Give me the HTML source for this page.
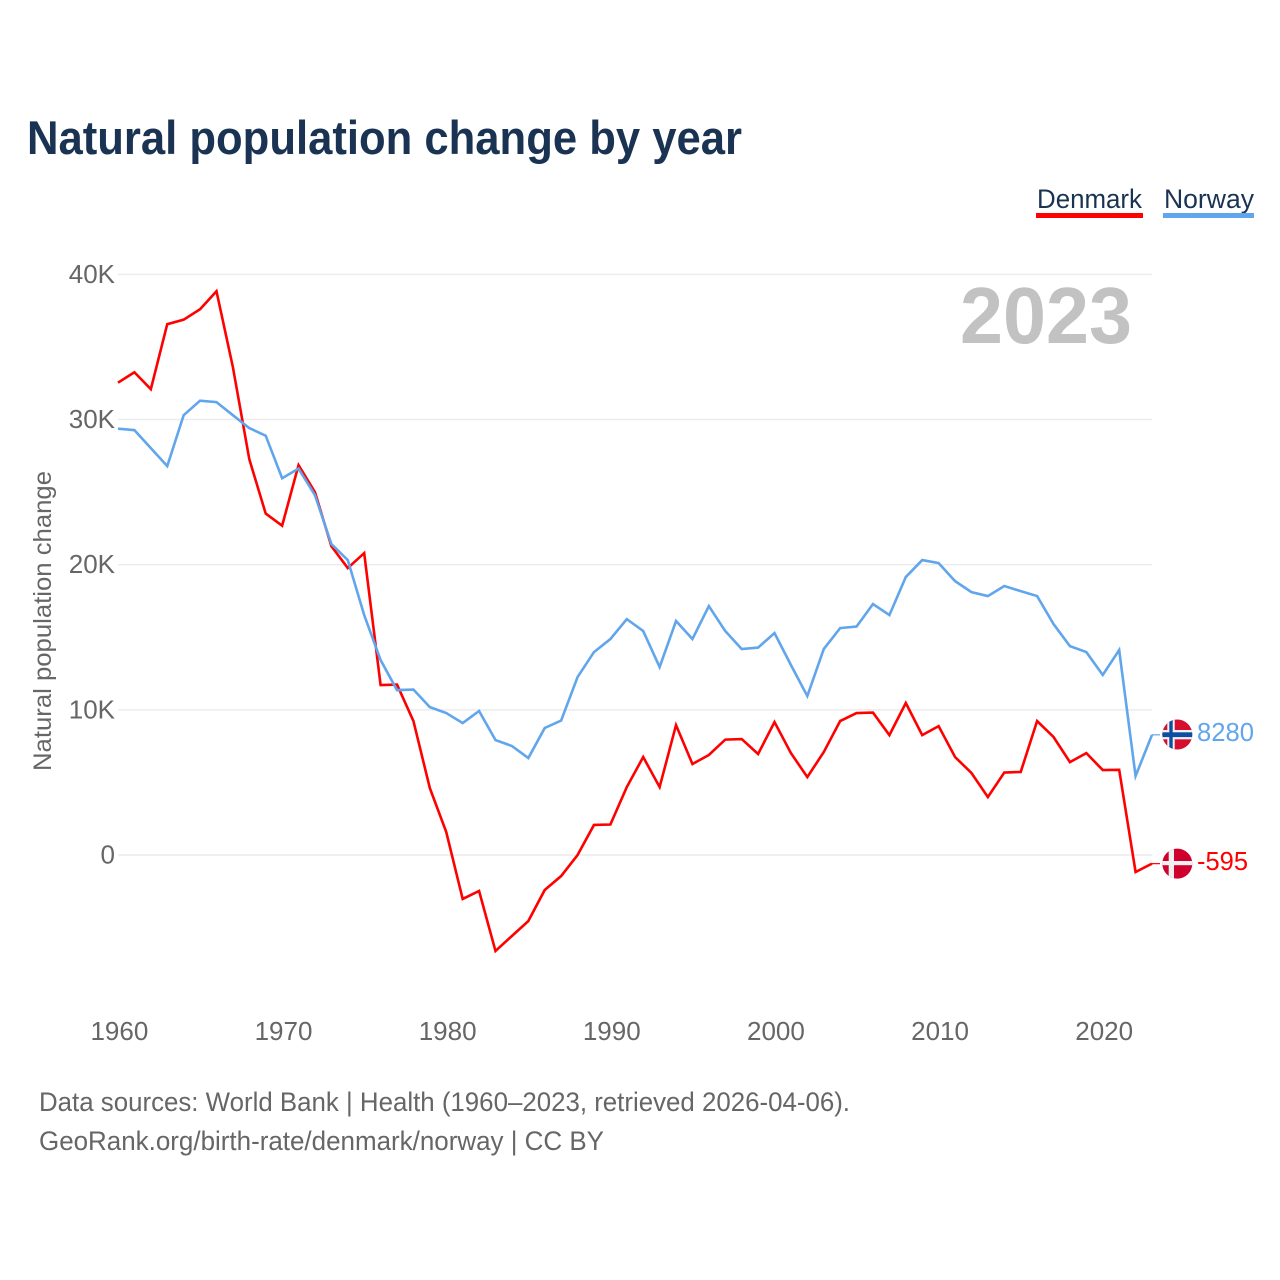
<!DOCTYPE html>
<html lang="en">
<head>
<meta charset="utf-8">
<title>Natural population change by year</title>
<style>
html,body{margin:0;padding:0;background:#fff;width:1280px;height:1280px;overflow:hidden}
svg{display:block}
text{font-family:"Liberation Sans",sans-serif}
</style>
</head>
<body>
<svg id="chart" width="1280" height="1280" viewBox="0 0 1280 1280" xmlns="http://www.w3.org/2000/svg">
  <defs>
    <clipPath id="clip-no"><circle cx="1177.3" cy="734.5" r="15"/></clipPath>
    <clipPath id="clip-dk"><circle cx="1177.3" cy="863.6" r="15"/></clipPath>
  </defs>
  <text x="27" y="154" font-size="47" font-weight="700" fill="#1a3353" textLength="715" lengthAdjust="spacingAndGlyphs">Natural population change by year</text>

  <g>
    <g>
      <text x="1037" y="208" font-size="27" fill="#1a3353" textLength="105" lengthAdjust="spacingAndGlyphs">Denmark</text>
      <rect x="1036" y="213" width="107" height="5" fill="#ff0000"/>
    </g>
    <g>
      <text x="1164" y="208" font-size="27" fill="#1a3353" textLength="90" lengthAdjust="spacingAndGlyphs">Norway</text>
      <rect x="1163" y="213" width="91" height="5" fill="#61a5ec"/>
    </g>
  </g>

  <g id="grid"></g>
  <g id="y-ticks"></g>
  <g id="x-ticks"></g>

  <text transform="translate(51 771) rotate(-90)" x="0" y="0" font-size="25" fill="#666666" textLength="300" lengthAdjust="spacingAndGlyphs">Natural population change</text>

  <text x="960" y="343" font-size="80" font-weight="700" fill="#c2c2c2" textLength="172" lengthAdjust="spacingAndGlyphs">2023</text>

  <g id="series"></g>

  <g clip-path="url(#clip-no)">
    <rect x="1160" y="717" width="36" height="36" fill="#d5102f"/>
    <rect x="1167.3" y="717" width="7.4" height="36" fill="#f2f2f2"/>
    <rect x="1160" y="730" width="36" height="9.3" fill="#f2f2f2"/>
    <rect x="1169.3" y="717" width="3.4" height="36" fill="#0b4ea2"/>
    <rect x="1160" y="732.3" width="36" height="4.8" fill="#0b4ea2"/>
  </g>
  <g clip-path="url(#clip-dk)">
    <rect x="1160" y="846" width="36" height="36" fill="#d0002e"/>
    <rect x="1168.7" y="846" width="5.3" height="36" fill="#f0f0f0"/>
    <rect x="1160" y="861" width="36" height="4.2" fill="#f0f0f0"/>
  </g>

  <text id="value-no" x="1197" y="741" font-size="26" fill="#61a5ec" textLength="57" lengthAdjust="spacingAndGlyphs"></text>
  <text id="value-dk" x="1197" y="870" font-size="26" fill="#ff0000" textLength="51" lengthAdjust="spacingAndGlyphs"></text>

  <text x="39" y="1111" font-size="27" fill="#666666" textLength="811" lengthAdjust="spacingAndGlyphs">Data sources: World Bank | Health (1960–2023, retrieved 2026-04-06).</text>
  <text x="39" y="1150" font-size="27" fill="#666666" textLength="565" lengthAdjust="spacingAndGlyphs">GeoRank.org/birth-rate/denmark/norway | CC BY</text>
</svg>
<script>
const startYear = 1960;
const denmarkK = [32.54,33.26,32.09,36.57,36.88,37.60,38.84,33.61,27.27,23.52,22.69,26.86,25.00,21.28,19.77,20.80,11.71,11.74,9.23,4.61,1.58,-3.03,-2.48,-6.61,-5.58,-4.55,-2.41,-1.45,0,2.07,2.10,4.68,6.75,4.68,8.95,6.27,6.89,7.95,7.99,6.96,9.16,7.02,5.37,7.09,9.23,9.78,9.81,8.26,10.47,8.26,8.88,6.75,5.65,3.99,5.68,5.72,9.23,8.13,6.40,7.02,5.85,5.87,-1.17,-0.595];
const norwayK = [29.37,29.27,28.03,26.79,30.30,31.30,31.20,30.30,29.41,28.89,25.96,26.62,24.79,21.42,20.32,16.53,13.43,11.36,11.40,10.19,9.78,9.09,9.92,7.92,7.51,6.68,8.75,9.26,12.26,13.98,14.88,16.25,15.43,12.95,16.12,14.88,17.15,15.43,14.19,14.29,15.29,13.09,10.95,14.19,15.63,15.74,17.29,16.53,19.15,20.32,20.11,18.87,18.11,17.84,18.53,18.18,17.84,15.91,14.39,13.98,12.40,14.12,5.44,8.28];
const yTickValues = [0,10,20,30,40];
const yTickLabels = ["0","10K","20K","30K","40K"];
const xTickYears = [1960,1970,1980,1990,2000,2010,2020];
const latestNorway = "8280";
const latestDenmark = "-595";

const NS = "http://www.w3.org/2000/svg";
function xScale(year){ return 118 + (year - 1960) * (1152 - 118) / 63; }
function yScale(k){ return 855 - k * 14.515; }
function make(tag, attrs, parent){
  const el = document.createElementNS(NS, tag);
  for (const key in attrs) el.setAttribute(key, attrs[key]);
  parent.appendChild(el);
  return el;
}
const grid = document.getElementById("grid");
const yTicks = document.getElementById("y-ticks");
const xTicks = document.getElementById("x-ticks");
const seriesGroup = document.getElementById("series");

yTickValues.forEach(function(v, i){
  const line = make("line", {x1:118, x2:1152, y1:yScale(v), y2:yScale(v), stroke:"#ececec", "stroke-width":1.5}, grid);
  
  
  const label = make("text", {x:115, y:yScale(v)+8.5, "text-anchor":"end", "font-size":26, fill:"#666666"}, yTicks);
  
  
  label.textContent = yTickLabels[i];
});

xTickYears.forEach(function(yr){
  const label = make("text", {x:xScale(yr)+1.4, y:1040, "text-anchor":"middle", "font-size":26, fill:"#666666"}, xTicks);
  
  
  label.textContent = yr;
});

function pathFor(values){
  return values.map(function(k, i){
    return (i ? "L" : "M") + xScale(startYear + i).toFixed(2) + " " + yScale(k).toFixed(2);
  }).join(" ");
}
function stub(values, color){
  const last = values[values.length - 1];
  const s = make("line", {x1:xScale(startYear + values.length - 1), x2:1160, y1:yScale(last), y2:yScale(last), stroke:color, "stroke-width":1.2}, seriesGroup);
  return s;
}
const denmarkLine = make("path", {d:pathFor(denmarkK), fill:"none", stroke:"#ff0000", "stroke-width":2.6, "stroke-linejoin":"miter"}, seriesGroup);


const denmarkStub = stub(denmarkK, "#ff0000");


const norwayLine = make("path", {d:pathFor(norwayK), fill:"none", stroke:"#61a5ec", "stroke-width":2.6, "stroke-linejoin":"miter"}, seriesGroup);


const norwayStub = stub(norwayK, "#61a5ec");



document.getElementById("value-no").textContent = latestNorway;
document.getElementById("value-dk").textContent = latestDenmark;
</script>
</body>
</html>
